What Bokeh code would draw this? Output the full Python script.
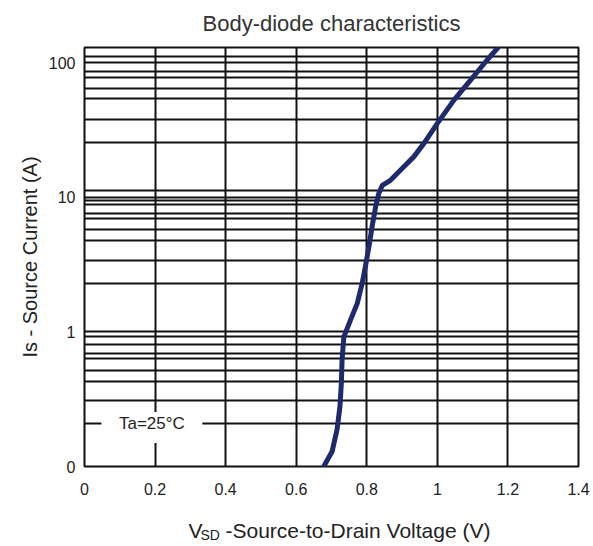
from bokeh.plotting import figure
from bokeh.models import Range1d, FixedTicker, Label, BoxAnnotation
from bokeh.embed import file_html
from bokeh.resources import INLINE

# Body-diode forward characteristic (Ta = 25 °C)
vsd = [0.678, 0.702, 0.716, 0.724, 0.728, 0.730, 0.735, 0.754, 0.773, 0.787,
       0.796, 0.806, 0.815, 0.825, 0.834, 0.844, 0.867, 0.905, 0.933, 0.962,
       1.0, 1.047, 1.094, 1.141, 1.172]
i_s = [0.1, 0.13, 0.19, 0.28, 0.42, 0.62, 0.92, 1.23, 1.63, 2.3,
       3.05, 4.3, 6.05, 8.5, 10.7, 12.3, 13.4, 16.9, 20.0, 25.2,
       35.5, 52.8, 74.4, 105, 130]

# axis ticks and labels
x_ticks = [0, 0.2, 0.4, 0.6, 0.8, 1.0, 1.2, 1.4]
x_tick_labels = ["0", "0.2", "0.4", "0.6", "0.8", "1", "1.2", "1.4"]
y_ticks = [0.1, 1, 10, 100]
y_tick_labels = ["0", "1", "10", "100"]
# horizontal grid rulings of the log chart paper
y_rulings = [112, 86, 78, 64.5, 54, 38, 25.6, 11.2,
             9.55, 8.87, 7.6, 7.0, 5.8, 4.8, 3.4, 2.3,
             0.92, 0.81, 0.69, 0.64, 0.52, 0.43, 0.31, 0.21]
condition = "Ta=25°C"

FONT = "Liberation Sans"
INK = "#111111"
TEXT = "#222222"

p = figure(width=593, height=546, y_axis_type="log",
           x_range=Range1d(0, 1.4), y_range=Range1d(0.1, 130),
           output_backend="svg", toolbar_location=None,
           min_border_left=84, min_border_right=15,
           min_border_top=47, min_border_bottom=80)

p.background_fill_color = "white"
p.border_fill_color = "white"
p.outline_line_color = INK
p.outline_line_width = 2

# title
p.title.text = "Body-diode characteristics"
p.title.align = "center"
p.title.vertical_align = "top"
p.title.text_font = FONT
p.title.text_font_size = "22px"
p.title.text_font_style = "normal"
p.title.text_color = "#333333"
p.title.standoff = 20
p.title.offset = 4

# x axis
xa = p.xaxis[0]
xa.ticker = FixedTicker(ticks=x_ticks, minor_ticks=[])
xa.major_label_overrides = dict(zip(x_ticks, x_tick_labels))
xa.major_label_text_font = FONT
xa.major_label_text_font_size = "16px"
xa.major_label_text_color = TEXT
xa.major_label_standoff = 10
xa.axis_line_color = None
xa.major_tick_line_color = None
xa.minor_tick_line_color = None

# y axis
ya = p.yaxis[0]
ya.ticker = FixedTicker(ticks=y_ticks, minor_ticks=[])
ya.major_label_overrides = dict(zip(y_ticks, y_tick_labels))
ya.major_label_text_font = FONT
ya.major_label_text_font_size = "16px"
ya.major_label_text_color = TEXT
ya.major_label_standoff = 3
ya.axis_line_color = None
ya.major_tick_line_color = None
ya.minor_tick_line_color = None
ya.axis_label = "Is - Source Current (A)"
ya.axis_label_text_font = FONT
ya.axis_label_text_font_size = "20px"
ya.axis_label_text_font_style = "normal"
ya.axis_label_text_color = TEXT
ya.axis_label_standoff = 5

# grid
p.xgrid.ticker = FixedTicker(ticks=x_ticks)
p.xgrid.grid_line_color = INK
p.xgrid.grid_line_width = 2
p.ygrid.ticker = FixedTicker(ticks=y_ticks, minor_ticks=y_rulings)
p.ygrid.grid_line_color = INK
p.ygrid.grid_line_width = 2
p.ygrid.minor_grid_line_color = INK
p.ygrid.minor_grid_line_width = 2

# curve
p.line(vsd, i_s, line_color="#1d2b6c", line_width=5,
       line_join="round", line_cap="round")

# test-condition note sitting on the lowest ruling
p.add_layout(BoxAnnotation(left=0.048, right=0.334, bottom=0.1495, top=0.254,
                           fill_color="white", fill_alpha=1.0, line_color=None))
p.add_layout(Label(x=0.191, y=0.21, text=condition, text_align="center",
                   text_baseline="middle", text_font=FONT,
                   text_font_size="17px", text_color=TEXT))

# x-axis title "V_SD -Source-to-Drain Voltage (V)" built from three labels
xlab_y = 0.0333
sub_y = 0.0310
def axis_text(txt, x, y, size):
    return Label(x=x, y=y, text=txt, text_align="left",
                 text_baseline="alphabetic", text_font=FONT,
                 text_font_size=size, text_color=TEXT)

p.add_layout(axis_text("V", 0.2947, xlab_y, "21px"), "left")
p.add_layout(axis_text("SD", 0.3287, sub_y, "14px"), "below")
p.add_layout(axis_text("-Source-to-Drain Voltage (V)", 0.3996, xlab_y, "21px"), "below")

open("out.html", "w").write(file_html(p, INLINE))
